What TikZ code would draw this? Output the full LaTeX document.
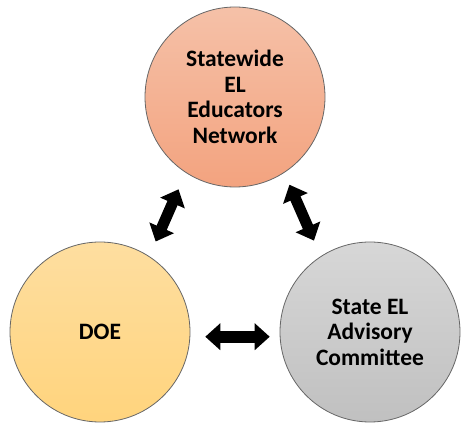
\documentclass[tikz,border=0pt]{standalone}
\usepackage{fontspec}
\setmainfont{Carlito}
\usepackage{tikz}
\usetikzlibrary{arrows.meta}
\tikzset{
	bubble/.style={circle, draw=black!60, line width=0.8pt, minimum size=180pt, inner sep=0pt,
		align=center, font=\bfseries\fontsize{23.5}{25.5}\selectfont},
	dblarrow/.style={line width=11pt, {Triangle[length=15pt,width=26pt]}-{Triangle[length=15pt,width=26pt]}},
}

\begin{document}
\begin{tikzpicture}[x=1pt,y=1pt]
		\useasboundingbox (0,0) rectangle (461,423);
		\node[bubble, top color={rgb,255:red,245;green,193;blue,168}, bottom color={rgb,255:red,243;green,163;blue,127}] (net) at (235,326) {Statewide\\EL\\Educators\\Network};
		\node[bubble, top color={rgb,255:red,254;green,222;blue,160}, bottom color={rgb,255:red,255;green,212;blue,125}] (doe) at (100,91) {DOE};
		\node[bubble, top color={rgb,255:red,215;green,215;blue,215}, bottom color={rgb,255:red,192;green,192;blue,192}] (sac) at (370,91) {State EL\\Advisory\\Committee};
		\draw[dblarrow, shorten <=16pt, shorten >=18pt] (doe.57) -- (net.237);
		\draw[dblarrow, shorten <=13pt, shorten >=17pt] (net.-57) -- (sac.123);
		\draw[dblarrow, line width=12pt, shorten <=15pt, shorten >=10pt] (doe.-3) -- (sac.183);
	\end{tikzpicture}
\end{document}
